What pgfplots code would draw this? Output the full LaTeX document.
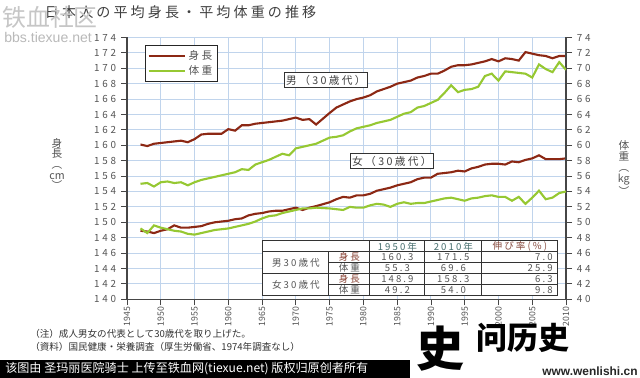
\documentclass[border=0pt]{standalone}
\usepackage{pgfplots}
\pgfplotsset{compat=1.18}
\usepackage{pgfplotstable}
\usepackage{fontspec}
\setmainfont{Noto Sans CJK JP}
\newfontfamily\spfont[LetterSpace=22]{Noto Sans CJK JP}
\newfontfamily\tkfont[LetterSpace=28]{Noto Sans CJK JP}
\newfontfamily\scfont{Noto Sans CJK SC}
\newfontfamily\lsans{Liberation Sans}
\definecolor{hcol}{RGB}{140,40,20}
\definecolor{wcol}{RGB}{150,200,50}
\definecolor{gridc}{RGB}{192,212,236}
\definecolor{axc}{RGB}{70,70,70}
\definecolor{tickc}{RGB}{85,85,85}
\definecolor{headc}{RGB}{70,110,110}

\pgfplotstableread{
year v
1947 160.1
1948 159.9
1949 160.2
1950 160.3
1951 160.4
1952 160.5
1953 160.6
1954 160.4
1955 160.8
1956 161.4
1957 161.5
1958 161.5
1959 161.5
1960 162.1
1961 161.9
1962 162.6
1963 162.6
1964 162.8
1965 162.9
1966 163.0
1967 163.1
1968 163.2
1969 163.4
1970 163.6
1971 163.3
1972 163.4
1973 162.7
1975 164.2
1976 164.9
1977 165.3
1978 165.7
1979 166.0
1980 166.2
1981 166.5
1982 167.0
1983 167.3
1984 167.6
1985 168.0
1986 168.2
1987 168.4
1988 168.8
1989 169.0
1990 169.3
1991 169.3
1992 169.7
1993 170.2
1994 170.4
1995 170.4
1996 170.5
1997 170.7
1998 170.9
1999 171.2
2000 170.9
2001 171.3
2002 171.2
2003 171.0
2004 172.1
2005 171.9
2006 171.7
2007 171.6
2008 171.3
2009 171.6
2010 171.6
}\MH

\pgfplotstableread{
year v
1947 148.9
1948 148.8
1949 148.6
1950 148.9
1951 149.1
1952 149.6
1953 149.3
1954 149.3
1955 149.4
1956 149.5
1957 149.8
1958 150.0
1959 150.1
1960 150.2
1961 150.4
1962 150.5
1963 150.9
1964 151.1
1965 151.2
1966 151.4
1967 151.5
1968 151.5
1969 151.7
1970 151.9
1971 151.6
1972 151.9
1973 152.1
1975 152.6
1976 153.0
1977 153.3
1978 153.2
1979 153.5
1980 153.5
1981 153.7
1982 154.1
1983 154.3
1984 154.5
1985 154.8
1986 155.0
1987 155.2
1988 155.6
1989 155.8
1990 155.8
1991 156.3
1992 156.4
1993 156.5
1994 156.7
1995 156.6
1996 157.0
1997 157.2
1998 157.5
1999 157.6
2000 157.6
2001 157.5
2002 157.9
2003 157.8
2004 158.1
2005 158.3
2006 158.7
2007 158.2
2008 158.2
2009 158.2
2010 158.3
}\FH

\pgfplotstableread{
year v
1947 55.0
1948 55.1
1949 54.65
1950 55.2
1951 55.3
1952 55.1
1953 55.2
1954 54.8
1955 55.2
1956 55.5
1957 55.7
1958 55.9
1959 56.1
1960 56.3
1961 56.5
1962 56.9
1963 56.8
1964 57.5
1965 57.8
1966 58.1
1967 58.5
1968 58.9
1969 58.7
1970 59.6
1971 59.8
1972 60.0
1973 60.2
1975 61.0
1976 61.1
1977 61.3
1978 61.8
1979 62.2
1980 62.4
1981 62.6
1982 62.9
1983 63.1
1984 63.3
1985 63.7
1986 64.1
1987 64.3
1988 64.9
1989 65.1
1990 65.5
1991 65.9
1992 66.8
1993 67.8
1994 66.9
1995 67.2
1996 67.3
1997 67.6
1998 69.0
1999 69.3
2000 68.4
2001 69.6
2002 69.5
2003 69.4
2004 69.3
2005 68.8
2006 70.5
2007 69.9
2008 69.5
2009 70.8
2010 69.8
}\MW

\pgfplotstableread{
year v
1947 49.2
1948 48.6
1949 49.6
1950 49.3
1951 49.1
1952 48.9
1953 48.8
1954 48.5
1955 48.4
1956 48.6
1957 48.8
1958 49.0
1959 49.1
1960 49.2
1961 49.4
1962 49.6
1963 49.8
1964 50.1
1965 50.5
1966 50.8
1967 50.9
1968 51.2
1969 51.4
1970 51.6
1971 51.8
1972 51.8
1973 51.9
1975 51.8
1976 51.7
1977 51.6
1978 52.0
1979 51.9
1980 51.9
1981 52.2
1982 52.4
1983 52.3
1984 52.0
1985 52.4
1986 52.6
1987 52.4
1988 52.5
1989 52.5
1990 52.7
1991 52.9
1992 53.1
1993 53.2
1994 53.0
1995 52.8
1996 53.1
1997 53.2
1998 53.4
1999 53.5
2000 53.3
2001 53.3
2002 52.8
2003 53.3
2004 52.4
2005 53.2
2006 54.1
2007 53.0
2008 53.2
2009 53.8
2010 54.0
}\FW

\pgfplotsset{
  common/.style={
    scale only axis, width=10.975cm, height=6.545cm,
    at={(3.175cm,1.9675cm)}, anchor=south west,
    xmin=1945, xmax=2010,
    tick align=outside, major tick length=0.15cm,
    tick style={axc, line width=0.6pt},
    axis line style={axc, line width=0.9pt, -},
    /pgf/number format/1000 sep={},
    /pgf/number format/assume math mode=true,
    yticklabel style={font=\tkfont\fontsize{7}{7.5}\selectfont, text=tickc},
  },
  hstyle/.style={hcol, line width=1.5pt},
  wstyle/.style={wcol, line width=1.5pt},
}

\begin{document}
\begin{tikzpicture}
\fill[white] (0,0) rectangle (16cm,9.45cm);
\path[use as bounding box] (0,0) rectangle (16cm,9.45cm);

\begin{axis}[common,
  ymin=140, ymax=174, ytick={140,142,...,174},
  xtick={1945,1950,...,2010},
  grid=major, major grid style={gridc, line width=0.7pt},
  axis x line*=bottom, axis y line*=left,
  xticklabel style={rotate=90, anchor=east, inner sep=1pt, font=\fontsize{6.2}{7}\selectfont, text=tickc},
]
\addplot[hstyle] table[x=year, y=v] {\MH};
\addplot[hstyle] table[x=year, y=v] {\FH};
\end{axis}

\begin{axis}[common,
  ymin=40, ymax=74, ytick={40,42,...,74},
  axis x line=none, axis y line*=right,
  legend style={at={(0.041,0.971)}, anchor=north west, draw=black!85, fill=white,
    font=\spfont\fontsize{7.6}{8.4}\selectfont, text=tickc, inner sep=1.5pt, row sep=-1.5pt,
    line width=0.7pt},
  legend cell align=left,
  legend image code/.code={\draw[#1] (0cm,0cm) -- (0.9cm,0cm);},
]
\addlegendimage{hstyle}
\addlegendentry{身長}
\addplot[wstyle] table[x=year, y=v] {\MW};
\addlegendentry{体重}
\addplot[wstyle, forget plot] table[x=year, y=v] {\FW};
\end{axis}

\begin{scope}[shift={(0cm,9.45cm)}, x=0.025cm, y=-0.025cm]
% title
\node[anchor=west, text=black!75, font=\spfont\fontsize{10}{11}\selectfont] at (40,12) {日本人の平均身長・平均体重の推移};
% axis labels
\node[text=tickc, align=center, font=\fontsize{7.6}{7.6}\selectfont] at (57,164) {身\\長\\︵\\cm\\︶};
\node[text=tickc, align=center, font=\fontsize{7.6}{8}\selectfont] at (624,168) {体\\重\\︵\\kg\\︶};
% annotations
\node[draw=black!80, fill=white, line width=0.7pt, text=black!75, inner sep=1.5pt, font=\spfont\fontsize{7.6}{8}\selectfont] at (326,80) {男（30歳代）};
\node[draw=black!80, fill=white, line width=0.7pt, text=black!75, inner sep=1.5pt, font=\spfont\fontsize{7.6}{8}\selectfont] at (392,161) {女（30歳代）};
% table
\fill[white] (263,241) rectangle (558,296);
\begin{scope}[draw=black!80, line width=0.7pt]
\draw (263,241) rectangle (558,296);
\draw (263,251.5) -- (558,251.5);
\draw (263,273.5) -- (558,273.5);
\draw (329,262.5) -- (558,262.5);
\draw (329,284.5) -- (558,284.5);
\draw (329,251.5) -- (329,296);
\foreach \xx in {370,425,482} \draw (\xx,241) -- (\xx,296);
\end{scope}
\begin{scope}[every node/.style={font=\spfont\fontsize{6.8}{7}\selectfont, text=tickc, inner sep=0pt}]
\node[text=headc] at (397.5,246.5) {1950年};
\node[text=headc] at (453.5,246.5) {2010年};
\node[text=hcol!60!gray] at (520,246.5) {伸び率(\%)};
\node at (296,262.5) {男30歳代};
\node at (296,284.8) {女30歳代};
\node[text=hcol!70!gray] at (349.5,257) {身長};
\node at (349.5,268) {体重};
\node[text=hcol!70!gray] at (349.5,279) {身長};
\node at (349.5,290.3) {体重};
\node at (397.5,257) {160.3};
\node at (397.5,268) {55.3};
\node at (397.5,279) {148.9};
\node at (397.5,290.3) {49.2};
\node at (453.5,257) {171.5};
\node at (453.5,268) {69.6};
\node at (453.5,279) {158.3};
\node at (453.5,290.3) {54.0};
\node[anchor=east] at (553,257) {7.0};
\node[anchor=east] at (553,268) {25.9};
\node[anchor=east] at (553,279) {6.3};
\node[anchor=east] at (553,290.3) {9.8};
\end{scope}
% notes
\node[anchor=west, text=black!80, inner sep=0pt, font=\fontsize{6.8}{7.5}\selectfont] at (30,334) {（注）成人男女の代表として30歳代を取り上げた。};
\node[anchor=west, text=black!80, inner sep=0pt, font=\fontsize{6.8}{7.5}\selectfont] at (30,346.5) {（資料）国民健康・栄養調査（厚生労働省、1974年調査なし）};
% watermark
\node[anchor=west, text=gray!45, inner sep=0pt, font=\scfont\fontsize{17}{18}\selectfont] at (2,17) {铁血社区};
\node[anchor=west, text=gray!55, inner sep=0pt, font=\lsans\fontsize{10}{11}\selectfont] at (4,37) {bbs.tiexue.net};
% bottom bar
\fill[black] (0,360) rectangle (410,378);
\node[anchor=west, text=white, inner sep=0pt, font=\scfont\fontsize{8.6}{9}\selectfont] at (5,369) {该图由 圣玛丽医院骑士 上传至铁血网(tiexue.net) 版权归原创者所有};
\node[text=black, inner sep=0pt, font=\scfont\bfseries\fontsize{34}{34}\selectfont] at (441,349) {史};
\node[anchor=west, text=black, inner sep=0pt, font=\scfont\bfseries\fontsize{22}{23}\selectfont] at (476,338) {问历史};
\node[anchor=east, text=black!85, inner sep=0pt, font=\lsans\bfseries\fontsize{8.5}{9}\selectfont] at (638,371) {www.wenlishi.cn};
\end{scope}
\end{tikzpicture}
\end{document}
